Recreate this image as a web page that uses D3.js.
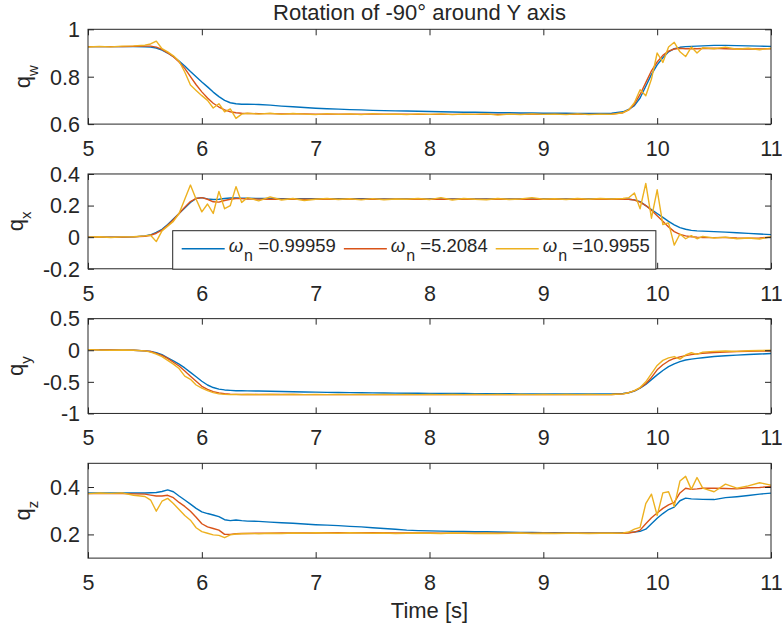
<!DOCTYPE html>
<html>
<head>
<meta charset="utf-8">
<script src="https://cdn.jsdelivr.net/npm/d3@7"></script>
<style>
  body { margin: 0; background: #fff; }
  svg { display: block; }
  text { font-family: "Liberation Sans", Arial, Helvetica, sans-serif; fill: #262626; }
</style>
</head>
<body>
<svg id="chart" width="782" height="628"></svg>
<script>
// ---- sample times [s] ----
const time = [
  5.0, 5.1, 5.2, 5.3, 5.4, 5.5,
  5.55, 5.6, 5.65, 5.7, 5.75, 5.8, 5.85, 5.9, 5.95, 6.0, 6.05, 6.1, 6.15, 6.2, 6.25, 6.3, 6.35, 6.4,
  6.5, 6.6, 6.7, 6.8, 6.9, 7.0, 7.1, 7.2, 7.3, 7.4, 7.5, 7.6, 7.7, 7.8, 7.9, 8.0, 8.1, 8.2, 8.3, 8.4,
  8.5, 8.6, 8.7, 8.8, 8.9, 9.0, 9.1, 9.2, 9.3, 9.4, 9.5, 9.6, 9.7,
  9.75, 9.8, 9.85, 9.9, 9.95, 10.0, 10.05, 10.1, 10.15, 10.2, 10.25, 10.3, 10.35, 10.4,
  10.5, 10.6, 10.7, 10.8, 10.9, 11.0
];

// natural frequencies of the three filters
const wnValues = ["0.99959", "5.2084", "10.9955"];
const seriesColors = ["#0072BD", "#D95319", "#EDB120"];

// ---- q_w ----
const qwA = [
  0.927, 0.927, 0.927, 0.927, 0.927, 0.926,
  0.925, 0.921, 0.912, 0.900, 0.885, 0.866, 0.845, 0.822, 0.800, 0.778, 0.757, 0.735, 0.716, 0.700, 0.690, 0.686, 0.684, 0.684,
  0.683, 0.680, 0.676, 0.673, 0.670, 0.667, 0.665, 0.663, 0.661, 0.660,
  0.658, 0.657, 0.656, 0.655, 0.654, 0.653, 0.652, 0.651, 0.650, 0.650,
  0.649, 0.648, 0.648, 0.647, 0.647, 0.646, 0.646, 0.646, 0.645, 0.645, 0.645, 0.646, 0.652,
  0.662, 0.678, 0.710, 0.760, 0.810, 0.850, 0.880, 0.905, 0.918, 0.924, 0.927, 0.928, 0.929, 0.930,
  0.932, 0.932, 0.931, 0.930, 0.929, 0.928
];
const qwB = [
  0.927, 0.927, 0.927, 0.927, 0.928, 0.929,
  0.929, 0.925, 0.915, 0.900, 0.884, 0.862, 0.835, 0.800, 0.766, 0.736, 0.710, 0.688, 0.672, 0.660, 0.652, 0.648, 0.646, 0.645,
  0.644, 0.644, 0.643, 0.643, 0.643, 0.642, 0.642, 0.642, 0.642, 0.642,
  0.642, 0.642, 0.642, 0.642, 0.641, 0.641, 0.641, 0.641, 0.641, 0.641,
  0.641, 0.641, 0.641, 0.641, 0.641, 0.641, 0.641, 0.641, 0.641, 0.641, 0.641, 0.642, 0.648,
  0.660, 0.684, 0.725, 0.775, 0.825, 0.862, 0.890, 0.908, 0.917, 0.920, 0.918, 0.919, 0.918, 0.919,
  0.920, 0.918, 0.917, 0.918, 0.917, 0.918
];
const qwC = [
  0.925, 0.928, 0.926, 0.929, 0.930, 0.933,
  0.938, 0.950, 0.918, 0.905, 0.888, 0.865, 0.820, 0.765, 0.742, 0.720, 0.700, 0.668, 0.686, 0.652, 0.664, 0.624, 0.642, 0.646,
  0.642, 0.646, 0.641, 0.645, 0.642, 0.640, 0.644, 0.641, 0.643, 0.640,
  0.644, 0.641, 0.642, 0.640, 0.643, 0.641, 0.643, 0.640, 0.642, 0.641,
  0.643, 0.638, 0.642, 0.640, 0.643, 0.641, 0.642, 0.640, 0.643, 0.640, 0.642, 0.641, 0.648,
  0.660, 0.690, 0.745, 0.720, 0.790, 0.900, 0.860, 0.925, 0.945, 0.905, 0.885, 0.925, 0.900, 0.922,
  0.918, 0.925, 0.916, 0.920, 0.914, 0.920
];

// ---- q_x ----
const qxA = [
  0.000, 0.000, 0.000, 0.000, 0.002, 0.008,
  0.015, 0.030, 0.050, 0.080, 0.115, 0.150, 0.185, 0.220, 0.245, 0.250, 0.242, 0.238, 0.240, 0.245, 0.248, 0.248, 0.247, 0.246,
  0.245, 0.245, 0.244, 0.244, 0.244, 0.243, 0.243, 0.243, 0.243, 0.243,
  0.242, 0.242, 0.242, 0.242, 0.242, 0.242, 0.242, 0.242, 0.242, 0.242,
  0.242, 0.242, 0.242, 0.242, 0.242, 0.242, 0.242, 0.242, 0.242, 0.242, 0.242, 0.242, 0.242,
  0.240, 0.236, 0.225, 0.200, 0.175, 0.150, 0.125, 0.100, 0.078, 0.060, 0.050, 0.043, 0.040, 0.038,
  0.035, 0.032, 0.028, 0.024, 0.020, 0.016
];
const qxB = [
  0.000, 0.000, 0.000, 0.000, 0.002, 0.006,
  0.012, 0.025, 0.045, 0.075, 0.110, 0.150, 0.190, 0.225, 0.245, 0.250, 0.240, 0.224, 0.222, 0.232, 0.240, 0.245, 0.244, 0.242,
  0.241, 0.240, 0.240, 0.240, 0.240, 0.240, 0.240, 0.240, 0.240, 0.240,
  0.240, 0.240, 0.240, 0.240, 0.240, 0.240, 0.240, 0.240, 0.240, 0.240,
  0.240, 0.240, 0.240, 0.240, 0.240, 0.240, 0.240, 0.240, 0.240, 0.240, 0.240, 0.240, 0.241,
  0.240, 0.235, 0.222, 0.200, 0.170, 0.135, 0.100, 0.065, 0.035, 0.018, 0.008, 0.003, 0.000, -0.002,
  -0.003, -0.002, -0.005, -0.006, -0.005, 0.000
];
const qxC = [
  0.000, 0.003, -0.002, 0.002, 0.003, 0.008,
  0.012, -0.028, 0.040, 0.070, 0.100, 0.150, 0.240, 0.330, 0.240, 0.160, 0.210, 0.150, 0.290, 0.180, 0.200, 0.320, 0.220, 0.250,
  0.230, 0.255, 0.235, 0.245, 0.232, 0.240, 0.245, 0.238, 0.243, 0.236,
  0.244, 0.237, 0.242, 0.240, 0.245, 0.238, 0.250, 0.235, 0.245, 0.240,
  0.237, 0.245, 0.238, 0.242, 0.250, 0.240, 0.243, 0.238, 0.245, 0.240, 0.245, 0.242, 0.245,
  0.250, 0.280, 0.180, 0.340, 0.120, 0.300, 0.080, 0.090, -0.050, 0.020, -0.010, 0.010, -0.010, 0.005,
  -0.005, 0.000, -0.010, -0.005, -0.012, 0.003
];

// ---- q_y ----
const qyA = [
  0.010, 0.005, 0.003, 0.000, 0.000, -0.010,
  -0.020, -0.040, -0.070, -0.120, -0.170, -0.220, -0.280, -0.350, -0.420, -0.490, -0.550, -0.590, -0.615, -0.628, -0.635, -0.640, -0.642, -0.643,
  -0.645, -0.648, -0.652, -0.656, -0.660, -0.663, -0.666, -0.668, -0.670, -0.672,
  -0.674, -0.676, -0.678, -0.680, -0.681, -0.682, -0.683, -0.684, -0.685, -0.686,
  -0.687, -0.688, -0.689, -0.690, -0.690, -0.691, -0.692, -0.692, -0.692, -0.692, -0.692, -0.692, -0.685,
  -0.672, -0.645, -0.600, -0.540, -0.465, -0.390, -0.320, -0.260, -0.215, -0.180, -0.155, -0.140, -0.128, -0.118,
  -0.100, -0.088, -0.078, -0.068, -0.060, -0.052
];
const qyB = [
  0.010, 0.005, 0.003, 0.000, 0.000, -0.010,
  -0.020, -0.050, -0.080, -0.130, -0.190, -0.250, -0.330, -0.410, -0.490, -0.570, -0.620, -0.655, -0.675, -0.688, -0.695, -0.698, -0.700, -0.700,
  -0.700, -0.701, -0.701, -0.701, -0.702, -0.702, -0.702, -0.702, -0.702, -0.702,
  -0.702, -0.702, -0.702, -0.702, -0.702, -0.702, -0.702, -0.702, -0.702, -0.702,
  -0.702, -0.702, -0.702, -0.702, -0.702, -0.702, -0.702, -0.702, -0.702, -0.702, -0.702, -0.701, -0.690,
  -0.672, -0.642, -0.595, -0.530, -0.430, -0.310, -0.230, -0.170, -0.130, -0.105, -0.085, -0.070, -0.058, -0.048,
  -0.035, -0.027, -0.021, -0.017, -0.014, -0.012
];
const qyC = [
  0.010, 0.003, 0.000, 0.003, 0.000, -0.010,
  -0.030, -0.060, -0.100, -0.160, -0.220, -0.290, -0.410, -0.460, -0.550, -0.600, -0.640, -0.670, -0.690, -0.698, -0.702, -0.700, -0.703, -0.700,
  -0.702, -0.700, -0.703, -0.701, -0.702, -0.700, -0.702, -0.701, -0.703, -0.701,
  -0.702, -0.700, -0.702, -0.701, -0.703, -0.701, -0.702, -0.700, -0.702, -0.701,
  -0.703, -0.701, -0.702, -0.700, -0.702, -0.701, -0.703, -0.701, -0.702, -0.700, -0.702, -0.701, -0.690,
  -0.672, -0.640, -0.590, -0.500, -0.370, -0.240, -0.160, -0.120, -0.100, -0.140, -0.075, -0.040, -0.065, -0.030,
  -0.018, -0.012, -0.018, -0.008, -0.005, 0.000
];

// ---- q_z ----
const qzA = [
  0.375, 0.375, 0.375, 0.375, 0.375, 0.375,
  0.376, 0.377, 0.381, 0.388, 0.380, 0.362, 0.345, 0.328, 0.310, 0.295, 0.288, 0.282, 0.275, 0.262, 0.258, 0.261, 0.258, 0.256,
  0.255, 0.252, 0.249, 0.247, 0.244, 0.241, 0.239, 0.237, 0.234, 0.232,
  0.228, 0.225, 0.222, 0.218, 0.216, 0.215, 0.214, 0.213, 0.212, 0.211,
  0.211, 0.210, 0.209, 0.208, 0.208, 0.207, 0.207, 0.207, 0.206, 0.206, 0.206, 0.206, 0.207,
  0.208, 0.210, 0.213, 0.222, 0.245, 0.268, 0.288, 0.305, 0.315, 0.342, 0.353, 0.350, 0.349, 0.348,
  0.347, 0.355, 0.359, 0.364, 0.370, 0.374
];
const qzB = [
  0.372, 0.372, 0.372, 0.372, 0.371, 0.370,
  0.366, 0.362, 0.362, 0.365, 0.355, 0.335, 0.318, 0.298, 0.272, 0.245, 0.232, 0.225, 0.218, 0.200, 0.200, 0.203, 0.204, 0.204,
  0.205, 0.205, 0.206, 0.206, 0.206, 0.206, 0.207, 0.207, 0.207, 0.207,
  0.207, 0.207, 0.206, 0.206, 0.206, 0.206, 0.205, 0.205, 0.205, 0.205,
  0.205, 0.205, 0.205, 0.205, 0.205, 0.205, 0.205, 0.205, 0.205, 0.205, 0.205, 0.205, 0.205,
  0.206, 0.210, 0.218, 0.245, 0.270, 0.290, 0.310, 0.325, 0.335, 0.375, 0.395, 0.390, 0.392, 0.395,
  0.395, 0.394, 0.392, 0.397, 0.398, 0.402
];
const qzC = [
  0.372, 0.375, 0.373, 0.375, 0.365, 0.360,
  0.345, 0.298, 0.340, 0.352, 0.330, 0.305, 0.280, 0.260, 0.228, 0.212, 0.205, 0.198, 0.196, 0.186, 0.198, 0.202, 0.203, 0.204,
  0.203, 0.205, 0.204, 0.206, 0.205, 0.207, 0.206, 0.205, 0.207, 0.206,
  0.205, 0.206, 0.204, 0.205, 0.206, 0.205, 0.204, 0.206, 0.205, 0.204,
  0.205, 0.204, 0.205, 0.206, 0.204, 0.205, 0.204, 0.205, 0.205, 0.204, 0.205, 0.205, 0.206,
  0.210, 0.222, 0.230, 0.330, 0.370, 0.280, 0.375, 0.380, 0.318, 0.425, 0.445, 0.390, 0.440, 0.395,
  0.380, 0.412, 0.395, 0.405, 0.418, 0.408
];

// ---- axis ticks ----
const xTicks = [5, 6, 7, 8, 9, 10, 11];
const xTickLabels = ["5", "6", "7", "8", "9", "10", "11"];
const qwTicks = [0.6, 0.8, 1];
const qwTickLabels = ["0.6", "0.8", "1"];
const qxTicks = [-0.2, 0, 0.2, 0.4];
const qxTickLabels = ["-0.2", "0", "0.2", "0.4"];
const qyTicks = [-1, -0.5, 0, 0.5];
const qyTickLabels = ["-1", "-0.5", "0", "0.5"];
const qzTicks = [0.2, 0.4];
const qzTickLabels = ["0.2", "0.4"];

const titleText = "Rotation of -90\u00B0 around Y axis";
const xLabelText = "Time [s]";

const panels = [
  { sub: "w", domain: [0.6, 1],  ticks: qwTicks, labels: qwTickLabels, series: [qwA, qwB, qwC] },
  { sub: "x", domain: [-0.2, 0.4], ticks: qxTicks, labels: qxTickLabels, series: [qxA, qxB, qxC] },
  { sub: "y", domain: [-1, 0.5], ticks: qyTicks, labels: qyTickLabels, series: [qyA, qyB, qyC] },
  { sub: "z", domain: [0.1, 0.5], ticks: qzTicks, labels: qzTickLabels, series: [qzA, qzB, qzC] }
];

panels.forEach(p => p.series.forEach(s => {
  if (s.length !== time.length) throw new Error("series length " + s.length + " != " + time.length);
}));

// ---- layout ----
const W = 782, H = 628;
const left = 88, right = 771;
const firstTop = 29.3, panelH = 94.8, panelStep = 144.67;
const tickLen = 6;
const tickFont = 21.5, labelFont = 22, legendFont = 18.5;
const ink = "#262626";

const svg = d3.select("#chart");
svg.append("rect").attr("width", W).attr("height", H).attr("fill", "#fff");

const x = d3.scaleLinear().domain([5, 11]).range([left, right]);

svg.append("text")
  .attr("x", 419.5).attr("y", 20)
  .attr("text-anchor", "middle")
  .style("font-size", labelFont + "px")
  .text(titleText);

panels.forEach((p, pi) => {
  const top = firstTop + pi * panelStep;
  const bottom = top + panelH;
  const y = d3.scaleLinear().domain(p.domain).range([bottom, top]);
  const g = svg.append("g");

  const clipId = "clip" + pi;
  svg.append("clipPath").attr("id", clipId)
    .append("rect").attr("x", left).attr("y", top)
    .attr("width", right - left).attr("height", panelH);

  // data lines
  const line = d3.line().x(d => x(d[0])).y(d => y(d[1]));
  const lg = g.append("g").attr("clip-path", `url(#${clipId})`);
  p.series.forEach((s, si) => {
    lg.append("path")
      .datum(d3.zip(time, s))
      .attr("fill", "none")
      .attr("stroke", seriesColors[si])
      .attr("stroke-width", 1.4)
      .attr("stroke-linejoin", "round")
      .attr("d", line);
  });

  // axes with inward ticks on all four sides
  const xb = g.append("g").attr("transform", `translate(0,${bottom})`)
    .call(d3.axisBottom(x).tickValues(xTicks)
      .tickFormat((d, i) => xTickLabels[i])
      .tickSizeInner(-tickLen).tickSizeOuter(0).tickPadding(16.5));
  const xt = g.append("g").attr("transform", `translate(0,${top})`)
    .call(d3.axisTop(x).tickValues(xTicks).tickFormat(() => "")
      .tickSizeInner(-tickLen).tickSizeOuter(0));
  const yl = g.append("g").attr("transform", `translate(${left},0)`)
    .call(d3.axisLeft(y).tickValues(p.ticks)
      .tickFormat((d, i) => p.labels[i])
      .tickSizeInner(-tickLen).tickSizeOuter(0).tickPadding(8));
  const yr = g.append("g").attr("transform", `translate(${right},0)`)
    .call(d3.axisRight(y).tickValues(p.ticks).tickFormat(() => "")
      .tickSizeInner(-tickLen).tickSizeOuter(0));

  [xb, xt, yl, yr].forEach(a => {
    a.select(".domain").remove();
    a.selectAll(".tick line").attr("stroke", ink).attr("stroke-width", 1);
    a.selectAll(".tick text")
      .attr("fill", ink)
      .style("font-size", tickFont + "px")
      .style("font-family", '"Liberation Sans", Arial, Helvetica, sans-serif');
  });
  yl.selectAll(".tick text").attr("dy", "0.34em");

  g.append("rect")
    .attr("x", left).attr("y", top)
    .attr("width", right - left).attr("height", panelH)
    .attr("fill", "none").attr("stroke", ink).attr("stroke-width", 1);

  // y label q with subscript, rotated
  let maxW = 0;
  yl.selectAll(".tick text").each(function () { maxW = Math.max(maxW, this.getComputedTextLength()); });
  const lx = left - 8 - maxW - 20;
  const ly = (top + bottom) / 2;
  const t = svg.append("text")
    .attr("transform", `translate(${lx},${ly}) rotate(-90)`)
    .attr("text-anchor", "middle")
    .style("font-size", labelFont + "px");
  t.append("tspan").text("q");
  t.append("tspan").attr("dy", 8).style("font-size", "15px").text(p.sub);
});

// x label
svg.append("text")
  .attr("x", (left + right) / 2).attr("y", 617.5)
  .attr("text-anchor", "middle")
  .style("font-size", labelFont + "px")
  .text(xLabelText);

// legend in the q_x panel
{
  const boxLeft = 172.7, boxTop = 230.7, boxBottom = firstTop + panelStep + panelH + 0.4;
  const lineY = 248.7, textY = 251.7;
  const entryGap = 9;
  const lg = svg.append("g");
  const box = lg.append("rect")
    .attr("x", boxLeft).attr("y", boxTop)
    .attr("height", boxBottom - boxTop)
    .attr("fill", "#fff").attr("stroke", ink).attr("stroke-width", 1);
  let cx = boxLeft + 9;
  wnValues.forEach((v, i) => {
    lg.append("line")
      .attr("x1", cx).attr("x2", cx + 43)
      .attr("y1", lineY).attr("y2", lineY)
      .attr("stroke", seriesColors[i]).attr("stroke-width", 1.4);
    const tx = lg.append("text")
      .attr("x", cx + 47).attr("y", textY)
      .style("font-size", legendFont + "px");
    tx.append("tspan").style("font-style", "italic").text("\u03C9");
    tx.append("tspan").attr("dy", 9).attr("dx", 1).style("font-size", "16px").text("n");
    tx.append("tspan").attr("dy", -9).text(" =" + v);
    cx = cx + 47 + tx.node().getComputedTextLength() + entryGap;
  });
  box.attr("width", cx - entryGap + 7 - boxLeft);
}
</script>
</body>
</html>
